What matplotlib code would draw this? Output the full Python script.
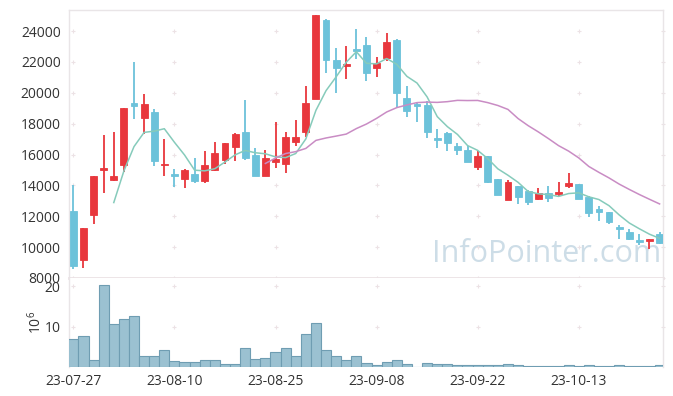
import numpy as np
import matplotlib
matplotlib.use('Agg')
import matplotlib.pyplot as plt

# daily candles, 59 trading days (23-07-27 .. end of Oct)
opens = [12368, 9147, 12109, 15028, 14379, 15309, 19308, 18357, 18725, 15309,
         14768, 14401, 14768, 14271, 14985, 15633, 16476, 17471, 15936, 14595,
         15503, 15374, 16801, 17449, 19568, 24692, 22097, 21730, 22854, 23070,
         21622, 22227, 23416, 19633, 19244, 19179, 17038, 17363, 16541, 16260,
         15179, 15893, 14444, 13082, 13990, 13666, 13125, 13514, 13471, 13947,
         14098, 13255, 12498, 12303, 11309, 10984, 10444, 10422, 10855]
highs = [14055, 11244, 14639, 17233, 17471, 18984, 22011, 19935, 18919, 17017,
         15071, 15071, 15784, 16217, 16801, 16757, 17406, 19503, 16390, 16282,
         18098, 17471, 18227, 20433, 25050, 24800, 22919, 23027, 24108, 23611,
         22335, 23892, 23459, 20433, 19308, 19460, 17665, 17449, 16757, 16541,
         16217, 15893, 14444, 14379, 13990, 13731, 13817, 13947, 14206, 14811,
         14098, 13298, 12649, 12303, 11460, 11179, 10855, 10530, 10984]
lows = [8585, 8650, 11504, 13514, 14271, 14876, 18271, 17298, 15244, 14595,
        13903, 13838, 14163, 14163, 14920, 15417, 15568, 15633, 14595, 14595,
        15136, 14811, 16541, 17146, 19568, 21297, 20000, 20865, 22162, 20757,
        21038, 22054, 19092, 18443, 18098, 17082, 16433, 16217, 15957, 15525,
        15028, 14163, 13406, 13082, 12822, 12714, 13082, 12930, 13341, 13817,
        13147, 11957, 11719, 11525, 10530, 10487, 10120, 9882, 10228]
closes = [8758, 11244, 14639, 15157, 14639, 18984, 19135, 19244, 15568, 15417,
          14595, 15028, 14314, 15352, 16109, 16757, 17341, 15763, 14595, 15784,
          15741, 17103, 17103, 19308, 25050, 22119, 21578, 21838, 22703, 21297,
          21946, 23308, 19957, 18811, 19135, 17449, 16930, 16714, 16282, 15525,
          15893, 14249, 13406, 14206, 13233, 12909, 13514, 13168, 13600, 14163,
          13147, 12217, 12282, 11611, 11179, 10530, 10336, 10530, 10271]

# 5-day line (from day 4) and 20-day line (from day 19)
ma5 = [12887, 14933, 16511, 17432, 17514, 17670, 16792, 15970, 14984, 14941,
       15080, 15512, 15975, 16264, 16113, 16048, 15845, 15797, 16065, 17008,
       18861, 20137, 21032, 21979, 22658, 21907, 21872, 22218, 21842, 21064,
       20631, 19732, 18456, 17808, 17302, 16580, 16269, 15733, 15071, 14656,
       14197, 13601, 13454, 13406, 13285, 13471, 13518, 13259, 13082, 12684,
       12087, 11564, 11188, 10837, 10572]
ma20 = [15421, 15770, 16063, 16186, 16394, 16915, 17071, 17193, 17323, 17680,
        17974, 18341, 18755, 19038, 19211, 19362, 19396, 19376, 19423, 19508,
        19495, 19502, 19360, 19175, 18920, 18329, 17868, 17465, 17032, 16577,
        16220, 15780, 15225, 14842, 14482, 14084, 13738, 13408, 13099, 12798]

# volume in millions
volumes = [6.8, 7.6, 1.7, 20.2, 10.6, 11.8, 12.6, 2.8, 2.6, 4.1,
           1.4, 1.2, 1.2, 1.7, 1.7, 0.8, 0.8, 4.8, 1.9, 2.2,
           3.6, 4.6, 2.6, 8.1, 10.8, 4.1, 2.7, 1.8, 2.8, 1.1,
           0.6, 1.3, 1.7, 0.7, 0.1, 1.1, 0.8, 0.7, 0.4, 0.4,
           0.4, 0.4, 0.4, 0.7, 0.4, 0.2, 0.2, 0.2, 0.2, 0.4,
           0.2, 0.4, 0.2, 0.2, 0.4, 0.2, 0.2, 0.2, 0.4]

date_labels = ['23-07-27', '23-08-10', '23-08-25', '23-09-08', '23-09-22', '23-10-13']
price_ticks = [8000, 10000, 12000, 14000, 16000, 18000, 20000, 22000, 24000]
vol_ticks = [10, 20]

plt.rcParams['font.family'] = ['Open Sans', 'DejaVu Sans']
plt.rcParams['mathtext.default'] = 'regular'

UP = '#e8373d'
DOWN = '#6cc2da'
GRID = '#ece2e5'
SPINE = '#e9e5e7'
TXT = '#333333'

fig = plt.figure(figsize=(6.73, 3.96), dpi=100)
ax = fig.add_axes([0.10253, 0.2980, 0.8831, 0.6767])
axv = fig.add_axes([0.10253, 0.0732, 0.8831, 0.2248], sharex=ax)

x = np.arange(len(closes))
o = np.array(opens)
c = np.array(closes)
cols = [UP if cc >= oo else DOWN for oo, cc in zip(o, c)]

ax.vlines(x, lows, highs, colors=cols, linewidth=1.3, zorder=3)
ax.bar(x, np.abs(c - o), bottom=np.minimum(o, c), width=0.68, color=cols,
       edgecolor=cols, linewidth=0.6, zorder=4)
ax.plot(x[4:], ma5, color='#86cbbb', linewidth=1.1, zorder=5)
ax.plot(x[19:], ma20, color='#c98cc4', linewidth=1.1, zorder=5)

xt = list(range(0, 10 * len(date_labels), 10))

ax.set_xlim(-0.43, 58.37)
ax.set_ylim(8000, 25360)
ax.set_yticks(price_ticks)
ax.set_yticklabels([str(v) for v in price_ticks])
ax.tick_params(axis='y', length=0, pad=6, labelsize=10, labelcolor=TXT)
ax.tick_params(axis='x', length=0, labelbottom=False)

gx, gy = np.meshgrid(xt + [58.37], price_ticks)
ax.plot(gx.ravel(), gy.ravel(), '+', color=GRID, ms=3.5, mew=0.8, zorder=1,
        clip_on=False)

ax.text(0.8035, 0.088, 'InfoPointer.com', transform=ax.transAxes, ha='center',
        va='center', fontsize=22, color='#cddde7', zorder=0)

for s in ax.spines.values():
    s.set_color(SPINE)
    s.set_linewidth(1.0)
ax.spines['bottom'].set_color('#ebe2e5')
ax.spines['bottom'].set_linewidth(2)

# volume panel
axv.bar(x, volumes, width=1.0, color='#9bc1d1', edgecolor='#6f9db2',
        linewidth=0.8, zorder=3)
axv.set_ylim(0, 22)
axv.set_yticks(vol_ticks)
axv.set_yticklabels([str(v) for v in vol_ticks])
axv.set_xticks(xt)
axv.set_xticklabels(date_labels)
axv.tick_params(axis='both', length=0, labelsize=10, labelcolor=TXT)
axv.tick_params(axis='x', pad=5)
axv.tick_params(axis='y', pad=6)
axv.set_ylabel('$10^6$', fontsize=10, color=TXT, labelpad=0)

vx, vy = np.meshgrid(xt + [58.37], vol_ticks)
axv.plot(vx.ravel(), vy.ravel(), '+', color=GRID, ms=3.5, mew=0.8, zorder=1,
         clip_on=False)

for s in axv.spines.values():
    s.set_color(SPINE)
    s.set_linewidth(1.0)
axv.spines['top'].set_visible(False)
axv.spines['bottom'].set_visible(False)

fig.savefig('out.png', dpi=100)
